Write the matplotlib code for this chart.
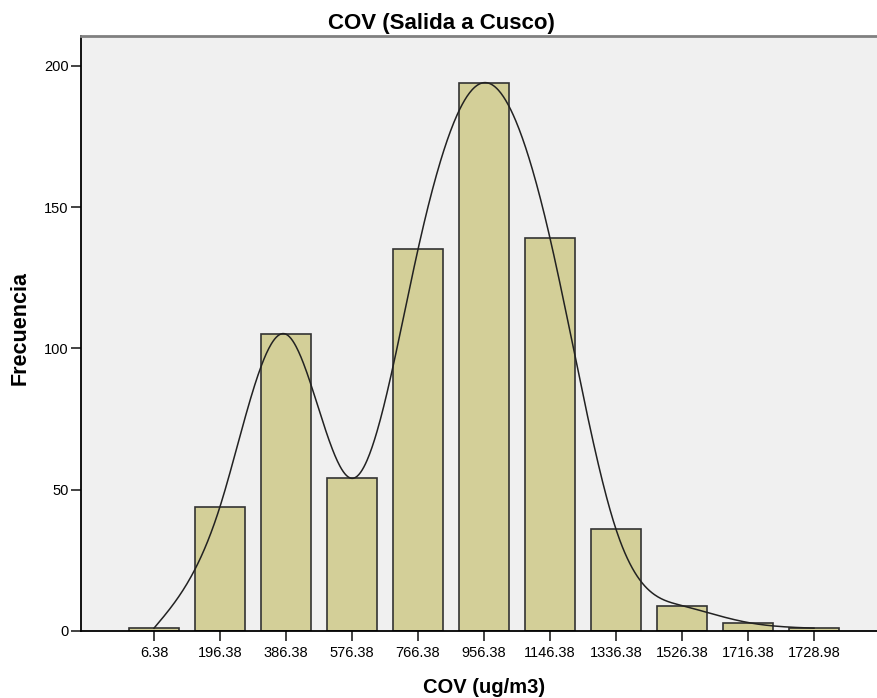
import numpy as np
import matplotlib
matplotlib.use("Agg")
from matplotlib import pyplot as plt

# bin labels and counts
bins = ["6.38", "196.38", "386.38", "576.38", "766.38", "956.38",
        "1146.38", "1336.38", "1526.38", "1716.38", "1728.98"]
counts = [1, 44, 105, 54, 135, 194, 139, 36, 9, 3, 1]


def natural_spline(x, y, xs):
    # natural cubic spline through the bar tops (like the SPSS interpolation line)
    x = np.asarray(x, float)
    y = np.asarray(y, float)
    n = len(x)
    h = np.diff(x)
    A = np.zeros((n, n))
    r = np.zeros(n)
    A[0, 0] = A[-1, -1] = 1
    for i in range(1, n - 1):
        A[i, i - 1] = h[i - 1]
        A[i, i] = 2 * (h[i - 1] + h[i])
        A[i, i + 1] = h[i]
        r[i] = 6 * ((y[i + 1] - y[i]) / h[i] - (y[i] - y[i - 1]) / h[i - 1])
    M = np.linalg.solve(A, r)
    out = np.empty_like(xs)
    for j, xv in enumerate(xs):
        k = min(np.searchsorted(x, xv, side="right") - 1, n - 2)
        a = x[k + 1] - xv
        b = xv - x[k]
        out[j] = (M[k] * a**3 + M[k + 1] * b**3) / (6 * h[k]) \
            + (y[k] / h[k] - M[k] * h[k] / 6) * a \
            + (y[k + 1] / h[k] - M[k + 1] * h[k] / 6) * b
    return out


plt.rcParams['font.family'] = ['Liberation Sans', 'DejaVu Sans']

fig = plt.figure(figsize=(8.78, 6.98), dpi=100)
ax = fig.add_axes([81 / 878, 67 / 698, 797 / 878, 595 / 698])
ax.set_facecolor('#F0F0F0')

pos = np.arange(len(bins))
ax.bar(pos, counts, width=0.76, color='#D3CF98', edgecolor='#333333', linewidth=1.2, zorder=2)

xs = np.linspace(pos[0], pos[-1], 800)
ax.plot(xs, natural_spline(pos, counts, xs), color='#222222', linewidth=1.1, zorder=3)

ax.set_xlim(-1.106, 10.97)
ax.set_ylim(0, 210.5)
ax.set_xticks(pos)
ax.set_xticklabels(bins)
ax.set_yticks([0, 50, 100, 150, 200])
ax.tick_params(axis='both', labelsize=10.5, color='#222222', length=7, width=1.2)
ax.tick_params(axis='x', pad=3.5)
ax.tick_params(axis='y', pad=2)

ax.spines['right'].set_visible(False)
ax.spines['top'].set_color('#808080')
ax.spines['top'].set_linewidth(2)
ax.spines['left'].set_linewidth(1.3)
ax.spines['bottom'].set_linewidth(1.3)

fig.text(441 / 878, 1 - 29 / 698, "COV (Salida a Cusco)", fontsize=16,
         fontweight='bold', ha='center', va='baseline')
fig.text(484 / 878, 5 / 698, "COV (ug/m3)", fontsize=14.5,
         fontweight='bold', ha='center', va='baseline')
fig.text(20 / 878, 1 - 328 / 698, "Frecuencia", fontsize=15.5,
         fontweight='bold', ha='center', va='center', rotation=90)

plt.savefig("out.png", dpi=100)
